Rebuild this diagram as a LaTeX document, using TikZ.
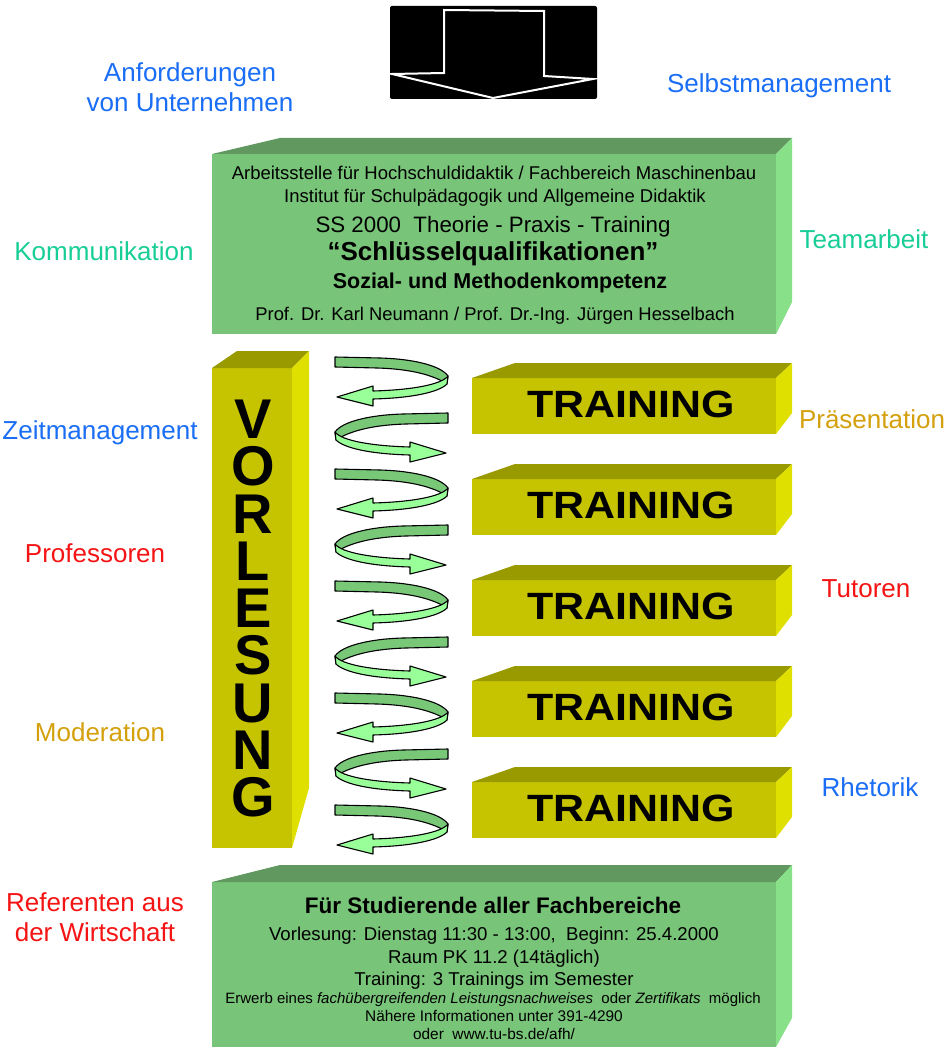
\documentclass[tikz,border=0pt]{standalone}
\usepackage{graphicx}
\usepackage{fontspec}
\setmainfont{Liberation Sans}
\definecolor{lblue}{RGB}{26,110,245}
\definecolor{lteal}{RGB}{24,206,150}
\definecolor{lgold}{RGB}{212,160,12}
\definecolor{lred}{RGB}{245,20,20}
\definecolor{gfront}{RGB}{120,196,120}
\definecolor{gtop}{RGB}{96,152,96}
\definecolor{gright}{RGB}{136,224,136}
\definecolor{yfront}{RGB}{198,196,0}
\definecolor{ytop}{RGB}{153,153,0}
\definecolor{yright}{RGB}{224,224,0}
\definecolor{spdark}{RGB}{120,200,120}
\definecolor{splight}{RGB}{153,255,153}
\begin{document}
\begin{tikzpicture}[x=1pt,y=-1pt,
  lbl/.style={font=\fontsize{26}{30}\selectfont, anchor=base, inner sep=0pt},
  txt/.style={anchor=base, inner sep=0pt},
  vl/.style={anchor=north, inner sep=0pt, align=center, font=\fontsize{56}{47.25}\selectfont\bfseries},
  tr/.style={anchor=base, inner sep=0pt, font=\fontsize{38}{40}\selectfont\bfseries},
  hairpin/.pic={
    \filldraw[fill=spdark, draw=black, line width=1.1pt, line join=round]
      (0,0) -- (45,1) .. controls (80,2) and (106,9) .. (113,19) -- (112,27)
      .. controls (100,19) and (78,12) .. (42,11) -- (0,10) -- cycle;
    \filldraw[fill=splight, draw=black, line width=1.1pt, line join=round]
      (113,19) .. controls (106,28) and (75,33) .. (38,34) -- (38,29) -- (2,40)
      -- (38,49) -- (38,42) .. controls (78,41) and (104,35) .. (112,27) -- cycle;
  }
]
\useasboundingbox (0,0) rectangle (948,1048);
\fill[white] (0,0) rectangle (948,1048);

% top arrow
\fill[black, rounded corners=2pt] (390,6) rectangle (597,99);
\draw[white, line width=2pt, line join=miter]
  (392,74) -- (444,73) -- (444,10) -- (544,11) -- (544,76) -- (593,79) -- (493,98) -- cycle;

% labels
\node[lbl, lblue] (anf1) at (190,82) {Anforderungen};
\node[lbl, lblue] (anf2) at (190,112) {von Unternehmen};
\node[lbl, lblue] (selbst) at (779,93) {Selbstmanagement};
\node[lbl, lteal] (komm) at (104,261) {Kommunikation};
\node[lbl, lteal] (team) at (864,249) {Teamarbeit};
\node[lbl, lblue] (zeit) at (100,439) {Zeitmanagement};
\node[lbl, lgold] (praes) at (872,428) {Präsentation};
\node[lbl, lred] (prof) at (95,562) {Professoren};
\node[lbl, lred] (tut) at (866,597) {Tutoren};
\node[lbl, lgold] (mod) at (100,741) {Moderation};
\node[lbl, lblue] (rhet) at (870,796) {Rhetorik};
\node[lbl, lred] (ref1) at (95,911) {Referenten aus};
\node[lbl, lred] (ref2) at (95,941) {der Wirtschaft};

% top green box
\fill[gfront] (212,154) rectangle (776,334);
\fill[gtop] (212,154) -- (280,138) -- (792,138) -- (776,154) -- cycle;
\fill[gright] (776,154) -- (792,138) -- (792,302) -- (776,334) -- cycle;
\node[txt, font=\fontsize{18.5}{22}\selectfont] (t1) at (494,180) {Arbeitsstelle für Hochschuldidaktik / Fachbereich Maschinenbau};
\node[txt, font=\fontsize{18.5}{22}\selectfont] (t2) at (495,203) {Institut für Schulpädagogik und Allgemeine Didaktik};
\node[txt, font=\fontsize{22.3}{26}\selectfont] (t3) at (493,233) {SS 2000\ \ Theorie - Praxis - Training};
\node[txt, font=\fontsize{26}{30}\selectfont\bfseries] (t4) at (493,261) {“Schlüsselqualifikationen”};
\node[txt, font=\fontsize{21.5}{25}\selectfont\bfseries] (t5) at (500,288) {Sozial- und Methodenkompetenz};
\node[txt, font=\fontsize{18.4}{22}\selectfont] (t6) at (495,320) {Prof. Dr. Karl Neumann / Prof. Dr.-Ing. Jürgen Hesselbach};

% VORLESUNG box
\fill[yfront] (212,368) rectangle (292,848);
\fill[ytop] (212,368) -- (237,351) -- (309,351) -- (292,368) -- cycle;
\fill[yright] (292,368) -- (309,351) -- (309,788) -- (292,848) -- cycle;
\node[vl] (vorl) at (253,400) {V\\O\\R\\L\\E\\S\\U\\N\\G};

% training boxes
\foreach \k in {0,...,4}{
  \begin{scope}[shift={(0,101*\k)}]
    \fill[yfront] (472,378) rectangle (776,434);
    \fill[ytop] (472,378) -- (515,363) -- (792,363) -- (776,378) -- cycle;
    \fill[yright] (776,378) -- (792,363) -- (792,413) -- (776,434) -- cycle;
    \node[tr] (tr\k) at (631,417) {\scalebox{1.13}[1]{TRAINING}};
  \end{scope}
}

% spiral
\foreach \i in {0,2,4,6,8}
  \pic at (335,357+56*\i) {hairpin};
\foreach \i in {1,3,5,7}
  \pic[xscale=-1] at (448,357+56*\i) {hairpin};

% bottom green box
\fill[gfront] (212,882) rectangle (776,1047);
\fill[gtop] (212,882) -- (280,865) -- (792,865) -- (776,882) -- cycle;
\fill[gright] (776,882) -- (792,865) -- (792,1018) -- (776,1047) -- cycle;
\node[txt, font=\fontsize{22.5}{26}\selectfont\bfseries] (b1) at (493,913) {Für Studierende aller Fachbereiche};
\node[txt, font=\fontsize{18.6}{22}\selectfont] (b2) at (494,940) {Vorlesung: Dienstag 11:30 - 13:00,\ \ Beginn: 25.4.2000};
\node[txt, font=\fontsize{18.6}{22}\selectfont] (b3) at (494,963) {Raum PK 11.2 (14täglich)};
\node[txt, font=\fontsize{18.6}{22}\selectfont] (b4) at (494,985) {Training: 3 Trainings im Semester};
\node[txt, font=\fontsize{15}{18}\selectfont] (b5) at (493,1003) {Erwerb eines \textit{fachübergreifenden Leistungsnachweises}\ \ oder \textit{Zertifikats}\ \ möglich};
\node[txt, font=\fontsize{15.4}{18}\selectfont] (b6) at (494,1021) {Nähere Informationen unter 391-4290};
\node[txt, font=\fontsize{15.4}{18}\selectfont] (b7) at (494,1039) {oder\ \ www.tu-bs.de/afh/};
\end{tikzpicture}
\end{document}
